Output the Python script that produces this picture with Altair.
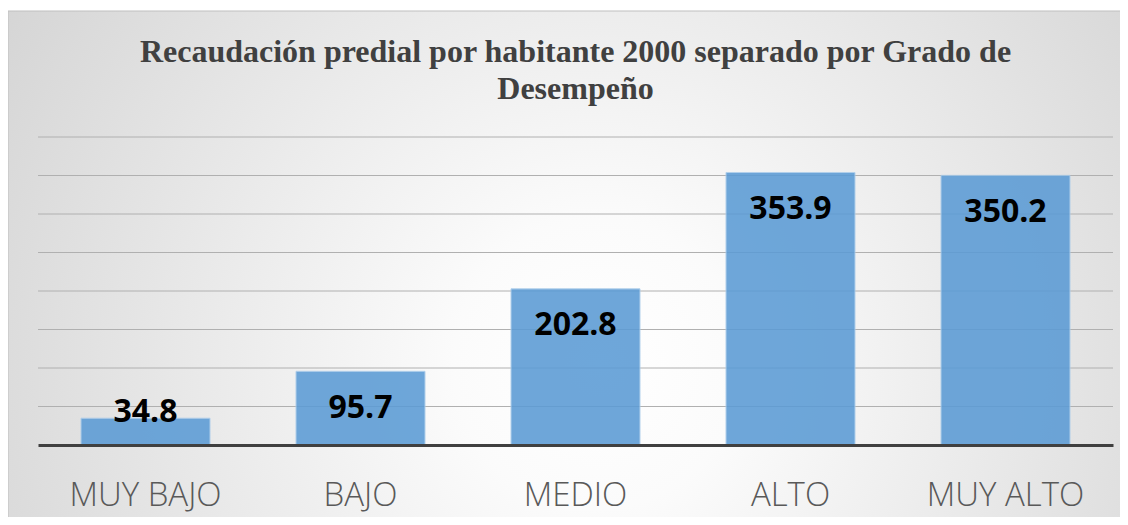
import altair as alt
import pandas as pd

categories = ["MUY BAJO", "BAJO", "MEDIO", "ALTO", "MUY ALTO"]
values = [34.8, 95.7, 202.8, 353.9, 350.2]
grid_values = [50, 100, 150, 200, 250, 300, 350, 400]
title_lines = ["Recaudación predial por habitante 2000 separado por Grado de", "Desempeño"]

W, H = 1075, 308

df = pd.DataFrame({"cat": categories, "val": values})
gdf = pd.DataFrame({"g": grid_values})
bgdf = pd.DataFrame({"k": [0]})

x_enc = alt.X("cat:N", sort=categories,
              scale=alt.Scale(paddingInner=0.4, paddingOuter=0.2),
              axis=alt.Axis(title=None, ticks=False, labelAngle=0,
                            labelFont="Open Sans", labelFontSize=33,
                            labelFontWeight=300, labelColor="#595959",
                            labelPadding=60, labelBaseline="alphabetic",
                            domainColor="#404040", domainWidth=3, zindex=1))
y_scale = alt.Scale(domain=[0, 400], nice=False)

bg_fill = alt.RadialGradient(
    gradient="radial",
    stops=[alt.GradientStop(offset=0, color="#ffffff"),
           alt.GradientStop(offset=0.15, color="#fbfbfb"),
           alt.GradientStop(offset=1, color="#c2c2c2")],
    x1=0.52, y1=0.58, r1=0, x2=0.52, y2=0.58, r2=0.85)

background = alt.Chart(bgdf).mark_rect(fill=bg_fill, stroke="#bfbfbf", strokeWidth=1).encode(
    x=alt.value(-30), x2=alt.value(W + 30), y=alt.value(-126), y2=alt.value(H + 90))

grid = alt.Chart(gdf).mark_rule(color="#b0b0b0", strokeWidth=1).encode(
    y=alt.Y("g:Q", scale=y_scale, axis=None),
    x=alt.value(0), x2=alt.value(W))

bars = alt.Chart(df).mark_bar(color="#5b9bd5", opacity=0.88, stroke="#a9cbea", strokeWidth=1).encode(
    x=x_enc,
    y=alt.Y("val:Q", scale=y_scale, axis=None))

labels = alt.Chart(df).transform_calculate(
    lp="max(datum.val - 47, 43.5)"
).mark_text(font="Open Sans", fontSize=32, fontWeight="bold", color="#000000",
            baseline="middle", align="center").encode(
    x=alt.X("cat:N", sort=categories),
    y=alt.Y("lp:Q", scale=y_scale, axis=None),
    text=alt.Text("val:Q", format=".1f"))

chart = alt.layer(background, grid, bars, labels).properties(
    width=W, height=H,
    title=alt.Title(title_lines, font="Liberation Serif", fontSize=32, fontWeight="bold",
                    color="#404040", lineHeight=37, anchor="middle", frame="group",
                    baseline="bottom", offset=0, dy=127),
    padding={"left": 30, "top": 129, "right": 7, "bottom": 72},
    autosize=alt.AutoSizeParams(type="none")
).configure_view(stroke=None).configure(background="#ffffff")

chart.save("out.html", embed_options={"renderer": "svg", "actions": False})
